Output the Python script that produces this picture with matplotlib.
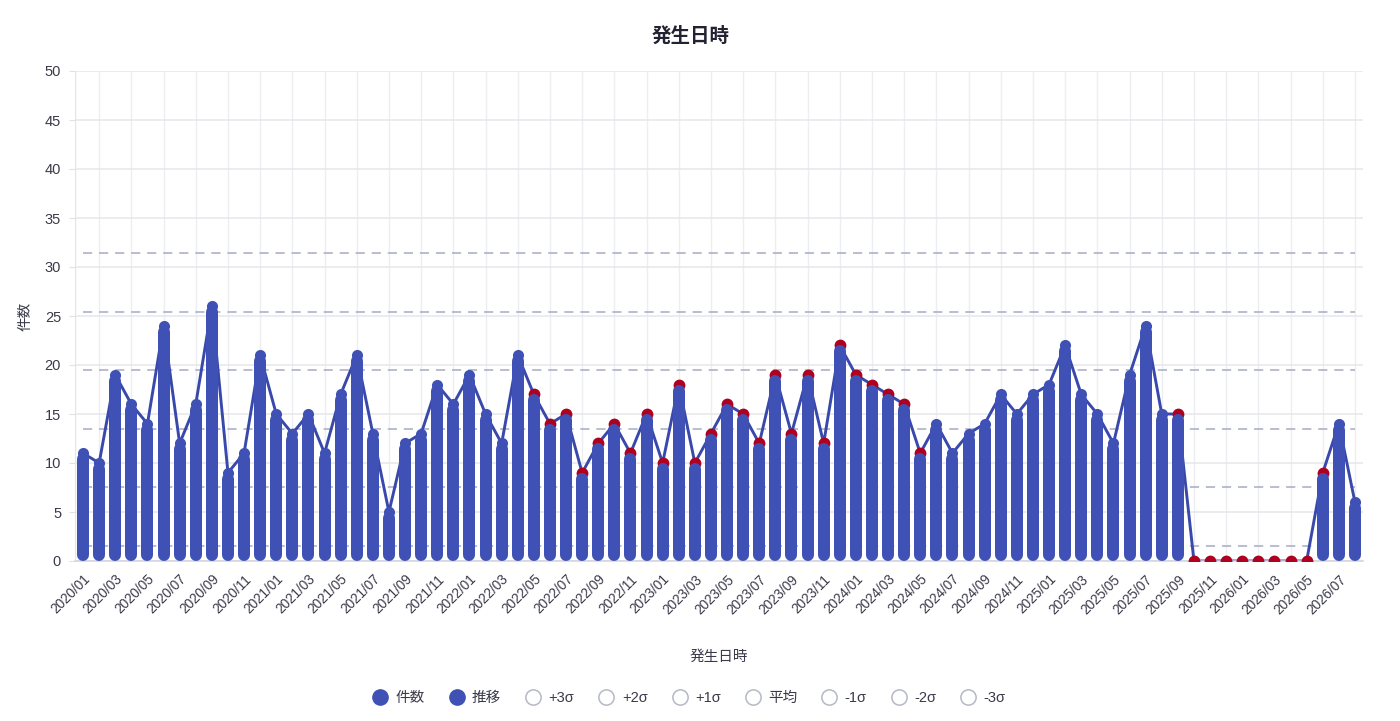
import numpy as np
import matplotlib
matplotlib.use("Agg")
import matplotlib.pyplot as plt
from matplotlib.lines import Line2D

plt.rcParams['font.family'] = ['Liberation Sans', 'Noto Sans CJK JP', 'DejaVu Sans']

# monthly counts 2020/01 .. 2026/08
months = [f"{y}/{m:02d}" for y in range(2020, 2027) for m in range(1, 13)][:80]
counts = [11, 10, 19, 16, 14, 24, 12, 16, 26, 9, 11, 21,
          15, 13, 15, 11, 17, 21, 13, 5, 12, 13, 18, 16,
          19, 15, 12, 21, 17, 14, 15, 9, 12, 14, 11, 15,
          10, 18, 10, 13, 16, 15, 12, 19, 13, 19, 12, 22,
          19, 18, 17, 16, 11, 14, 11, 13, 14, 17, 15, 17,
          18, 22, 17, 15, 12, 19, 24, 15, 15, 0, 0, 0,
          0, 0, 0, 0, 0, 9, 14, 6]
# points flagged by the control rules (red markers)
flagged = [28, 29, 30, 31, 32, 33, 34, 35, 36, 37, 38, 39, 40, 41, 42, 43,
           44, 45, 46, 47, 48, 49, 50, 51, 52,
           68, 69, 70, 71, 72, 73, 74, 75, 76, 77]
mean = 13.49
sd = 5.98
sigma_names = ['+3σ', '+2σ', '+1σ', '平均', '-1σ', '-2σ', '-3σ']
sigma_mult = [3, 2, 1, 0, -1, -2, -3]

BLUE = '#3f51b5'
LINE = '#3949ab'
RED = '#b00020'
DASH = '#a6abc6'
TXT = '#3a3a4a'

W, H = 1400, 721
fig = plt.figure(figsize=(W / 100, H / 100), dpi=100)
ax = fig.add_axes([75 / W, 1 - 561 / H, 1288 / W, 490 / H])

x = np.arange(len(counts))
vals = np.array(counts, dtype=float)
ymax = 50
ax.set_xlim(-0.5, len(counts) - 0.5)
ax.set_ylim(0, ymax)

# rounded bars drawn as thick round-capped segments
bar_px = 12
r = (bar_px / 2) * ymax / 490
nz = vals > 0
ax.vlines(x[nz], r, vals[nz] - r, colors=BLUE, linewidth=bar_px * 0.72,
          capstyle='round', zorder=3)

# trend line with markers
ax.plot(x, vals, color=LINE, linewidth=2.1, zorder=2)
red_mask = np.zeros(len(counts), dtype=bool)
red_mask[flagged] = True
ax.plot(x[~red_mask], vals[~red_mask], 'o', color=BLUE, markersize=8,
        markeredgewidth=0, zorder=2.5)
ax.plot(x[red_mask], vals[red_mask], 'o', color=RED, markersize=8.5,
        markeredgewidth=0, zorder=2.6)

# sigma lines
for m in sigma_mult:
    lvl = mean + m * sd
    ax.plot(x, np.full(len(x), lvl), color=DASH, linewidth=1.1,
            dashes=(6, 4.5), zorder=1.5)

# grid
ax.set_yticks(np.arange(0, 51, 5))
ax.yaxis.grid(True, color='#e6e7eb', linewidth=1.1, zorder=0)
for gx in x[1::2]:
    ax.axvline(gx, color='#eceef2', linewidth=1, zorder=0)
ax.axvline(-0.5, color='#e3e5ea', linewidth=1, zorder=0)
ax.set_axisbelow(True)

for s in ['top', 'right', 'left']:
    ax.spines[s].set_visible(False)
ax.spines['bottom'].set_color('#cfd3de')
ax.spines['bottom'].set_linewidth(1.1)
ax.spines['bottom'].set_zorder(2.2)

ax.tick_params(axis='y', length=4, color='#e0e2e8', labelsize=10.5,
               labelcolor=TXT, pad=6)
ax.set_xticks(x[::2])
ax.set_xticklabels(months[::2], rotation=45, ha='right',
                   rotation_mode='anchor', fontsize=9.8, color=TXT)
ax.tick_params(axis='x', length=0, pad=8)

ax.set_ylabel('件数', fontsize=10.5, color=TXT, labelpad=9)
ax.set_xlabel('発生日時', fontsize=10.5, color=TXT, labelpad=24)
fig.text(0.493, 1 - 36 / H, '発生日時', ha='center', va='center',
         fontsize=14, fontweight='bold', color='#222233')

# legend
handles = [Line2D([], [], marker='o', linestyle='', markersize=11,
                  markerfacecolor=BLUE, markeredgecolor=BLUE),
           Line2D([], [], marker='o', linestyle='', markersize=11,
                  markerfacecolor=BLUE, markeredgecolor=BLUE)]
for _ in sigma_names:
    handles.append(Line2D([], [], marker='o', linestyle='', markersize=11,
                          markerfacecolor='white', markeredgecolor='#b5b9c6',
                          markeredgewidth=1.1))
leg = fig.legend(handles, ['件数', '推移'] + sigma_names, loc='center',
                 bbox_to_anchor=(0.4925, 1 - 698 / H), ncol=9, frameon=False,
                 fontsize=10.5, handlelength=0.9, handletextpad=0.6,
                 columnspacing=1.75)
for t in leg.get_texts():
    t.set_color(TXT)

fig.savefig('out.png', dpi=100, facecolor='white')
